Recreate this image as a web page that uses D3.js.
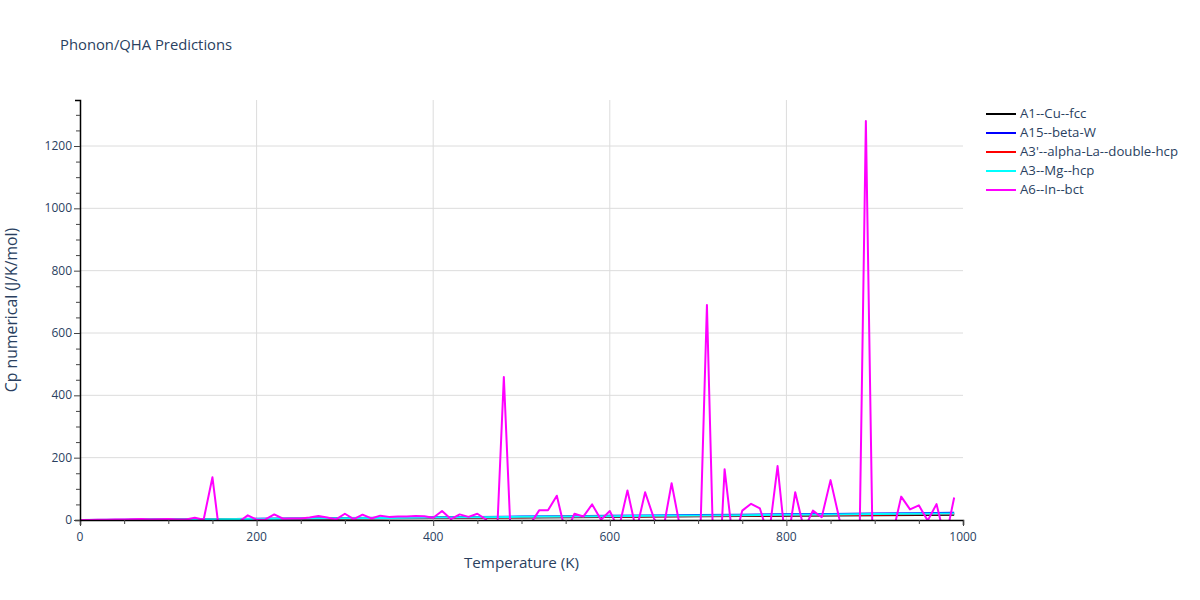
<!DOCTYPE html>
<html>
<head>
<meta charset="utf-8">
<script src="https://cdn.jsdelivr.net/npm/d3@7"></script>
<style>
  body { margin: 0; background: #fff; }
  svg text { font-family: "Open Sans", verdana, arial, sans-serif; fill: #2a3f5f; }
</style>
</head>
<body>
<svg id="chart" width="1200" height="600"></svg>
<script>
// ---- data ----
const seriesNames = ["A1--Cu--fcc", "A15--beta-W", "A3'--alpha-La--double-hcp", "A3--Mg--hcp", "A6--In--bct"];
const seriesColors = ["#000000", "#0000ff", "#ff0000", "#00ffff", "#ff00ff"];

// smooth series sampled every 50 K (last point 990 K)
const tempCoarse = [0, 50, 100, 150, 200, 250, 300, 350, 400, 450, 500, 550, 600, 650, 700, 750, 800, 850, 900, 950, 990];
const cpCu   = [0, 0.3, 1.0, 1.8, 2.7, 3.6, 4.6, 5.5, 6.4, 7.3, 8.2, 9.1, 10.0, 10.9, 11.8, 12.7, 13.6, 14.5, 15.4, 16.3, 17.0];
const cpW    = [0, 0.5, 1.5, 2.7, 3.9, 5.1, 6.3, 7.5, 8.7, 9.9, 11.1, 12.3, 13.5, 14.7, 15.9, 17.1, 18.3, 19.5, 20.7, 21.9, 22.9];
const cpLa   = [0, 0.35, 1.1, 2.1, 3.1, 4.1, 5.1, 6.1, 7.1, 8.1, 9.1, 10.1, 11.1, 12.1, 13.1, 14.1, 15.1, 16.1, 17.1, 18.1, 18.9];
const cpMg   = [0, 0.4, 1.3, 2.4, 3.5, 4.6, 5.7, 6.8, 7.9, 9.0, 10.1, 11.2, 12.3, 13.4, 14.5, 15.6, 16.7, 17.8, 18.9, 20.0, 20.9];

// noisy series sampled every 10 K (0 .. 990 K)
const tempFine = [0,10,20,30,40,50,60,70,80,90,100,110,120,130,140,150,160,170,180,190,
  200,210,220,230,240,250,260,270,280,290,300,310,320,330,340,350,360,370,380,390,
  400,410,420,430,440,450,460,470,480,490,500,510,520,530,540,550,560,570,580,590,
  600,610,620,630,640,650,660,670,680,690,700,710,720,730,740,750,760,770,780,790,
  800,810,820,830,840,850,860,870,880,890,900,910,920,930,940,950,960,970,980,990];
const cpIn = [0,0.1,0.5,1,1.5,2,2.5,3.5,2,2.5,3,2,1.5,7,1,137,-91,-30,-6,15,
  1,2,18,4,5,5,8,13,8,2,20,3,17,5,14,10,11,11,13,12,
  7,29,3,18,10,20,1,-197,459,-197,-100,-13,31,31,78,-42,20,11,50,1,
  29,-30,95,-35,89,5,-39,118,-30,-150,-296,690,-400,163,-80,30,52,37,-55,173,
  -100,89,-30,30,9,128,3,-100,-600,1280,-500,-200,-50,75,34,47,-2,51,-65,72];

const xTicks = [0, 200, 400, 600, 800, 1000];
const yTicks = [0, 200, 400, 600, 800, 1000, 1200];

// ---- layout ----
const svg = d3.select("#chart");
const L = 80, R = 963, T = 100, B = 520;
const x = d3.scaleLinear().domain([0, 1000]).range([L, R]);
const y = d3.scaleLinear().domain([0, 1347.6]).range([B, T]);

// gridlines
svg.append("g").selectAll("line").data(yTicks.filter(d => d > 0)).join("line")
  .attr("x1", L).attr("x2", R).attr("y1", d => y(d)).attr("y2", d => y(d))
  .attr("stroke", "#dcdcdc").attr("stroke-width", 1);
svg.append("g").selectAll("line").data(xTicks.filter(d => d > 0 && d < 1000)).join("line")
  .attr("y1", T).attr("y2", B).attr("x1", d => x(d)).attr("x2", d => x(d))
  .attr("stroke", "#dcdcdc").attr("stroke-width", 1);

// clip
svg.append("clipPath").attr("id", "clip").append("rect")
  .attr("x", L).attr("y", T).attr("width", R - L).attr("height", B - T + 1);

const line = d3.line().x(d => x(d[0])).y(d => y(d[1]));
const plot = svg.append("g").attr("clip-path", "url(#clip)");
const series = [
  tempCoarse.map((t, i) => [t, cpCu[i]]),
  tempCoarse.map((t, i) => [t, cpW[i]]),
  tempCoarse.map((t, i) => [t, cpLa[i]]),
  tempCoarse.map((t, i) => [t, cpMg[i]]),
  tempFine.map((t, i) => [t, cpIn[i]])
];
series.forEach((s, i) => {
  plot.append("path").datum(s).attr("d", line)
    .attr("fill", "none").attr("stroke", seriesColors[i])
    .attr("stroke-width", 2).attr("stroke-linejoin", "round");
});

// axes
const xAxis = svg.append("g").attr("transform", `translate(0,${B})`)
  .call(d3.axisBottom(x).tickValues(d3.range(0, 1001, 50)).tickSize(5).tickFormat(""));
xAxis.selectAll(".tick line").attr("stroke", "#444").attr("y2", d => d % 200 === 0 ? 6 : 4);
xAxis.select(".domain").attr("stroke", "#000").attr("stroke-width", 1.5);
svg.append("g").selectAll("text").data(xTicks).join("text")
  .attr("x", d => x(d)).attr("y", 541).attr("text-anchor", "middle")
  .attr("font-size", 12).text(d => d);

const yAxis = svg.append("g").attr("transform", `translate(${L},0)`)
  .call(d3.axisLeft(y).tickValues(d3.range(0, 1301, 50)).tickSize(5).tickFormat(""));
yAxis.selectAll(".tick line").attr("stroke", "#444").attr("x2", d => d % 200 === 0 ? -6 : -4);
yAxis.select(".domain").attr("stroke", "#000").attr("stroke-width", 1.5);
svg.append("g").selectAll("text").data(yTicks).join("text")
  .attr("x", 72).attr("y", d => y(d) + 4).attr("text-anchor", "end")
  .attr("font-size", 12).text(d => d);

// titles
svg.append("text").attr("x", 60).attr("y", 50).attr("font-size", 14.8)
  .text("Phonon/QHA Predictions");
svg.append("text").attr("x", (L + R) / 2).attr("y", 568).attr("text-anchor", "middle")
  .attr("font-size", 15.2).text("Temperature (K)");
svg.append("text").attr("transform", `translate(17,${(T + B) / 2}) rotate(-90)`)
  .attr("text-anchor", "middle").attr("font-size", 15.8).text("Cp numerical (J/K/mol)");

// legend
const lg = svg.append("g");
seriesNames.forEach((n, i) => {
  const yy = 114 + i * 19;
  lg.append("line").attr("x1", 986).attr("x2", 1016).attr("y1", yy).attr("y2", yy)
    .attr("stroke", seriesColors[i]).attr("stroke-width", 2);
  lg.append("text").attr("x", 1020).attr("y", yy + 4).attr("font-size", 13.2).text(n);
});
</script>
</body>
</html>
